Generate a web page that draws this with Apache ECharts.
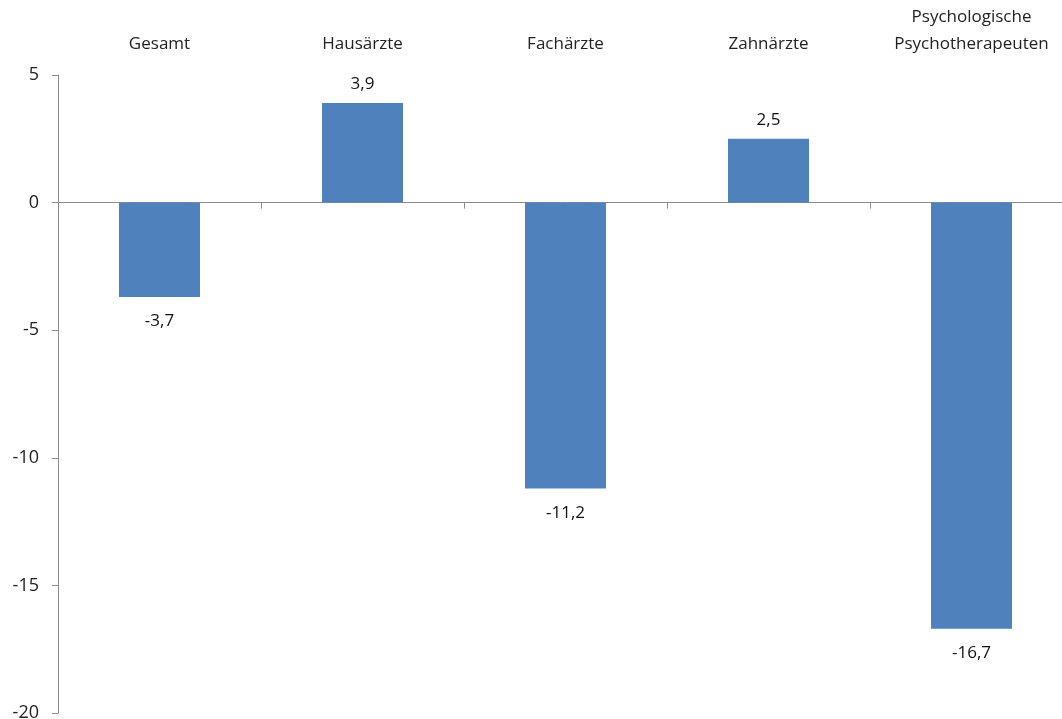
<!DOCTYPE html>
<html>
<head>
<meta charset="utf-8">
<script src="https://cdn.jsdelivr.net/npm/echarts@6/dist/echarts.min.js"></script>
<style>
  html, body { margin: 0; padding: 0; background: #fff; }
  #main { width: 1062px; height: 719px; }
</style>
</head>
<body>
<div id="main"></div>
<script>
// categories and values
var categories = ['Gesamt', 'Hausärzte', 'Fachärzte', 'Zahnärzte', 'Psychologische\nPsychotherapeuten'];
var values = [-3.7, 3.9, -11.2, 2.5, -16.7];

var myChart = echarts.init(document.getElementById('main'));

var axisGrey = '#8c8c8c';
var font = "'Open Sans', 'Liberation Sans', sans-serif";

var option = {
  animation: false,
  grid: {
    left: 58,
    top: 75,
    width: 1015,
    height: 638,
    outerBoundsMode: 'none'
  },
  xAxis: [
    {
      // labels at the top
      type: 'category',
      data: categories,
      position: 'top',
      axisLine: { show: false, onZero: false },
      axisTick: { show: false },
      axisLabel: {
        margin: 17,
        fontFamily: font,
        fontSize: 17,
        color: '#222',
        lineHeight: 27
      }
    },
    {
      // line through zero with ticks between categories
      type: 'category',
      data: categories,
      position: 'bottom',
      axisLine: { show: true, onZero: true, lineStyle: { color: axisGrey, width: 1 } },
      axisTick: { show: true, inside: false, length: 6, lineStyle: { color: axisGrey } },
      axisLabel: { show: false }
    }
  ],
  yAxis: {
    type: 'value',
    min: -20,
    max: 5,
    interval: 5,
    axisLine: { show: true, lineStyle: { color: axisGrey, width: 1 } },
    axisTick: { show: true, length: 6, lineStyle: { color: axisGrey } },
    splitLine: { show: false },
    axisLabel: {
      margin: 19,
      fontFamily: font,
      fontSize: 18,
      color: '#222'
    }
  },
  series: [
    {
      type: 'bar',
      xAxisIndex: 1,
      barWidth: 81,
      itemStyle: { color: '#4f81bd' },
      data: values.map(function (v) {
        return {
          value: v,
          label: {
            show: true,
            position: v >= 0 ? 'top' : 'bottom',
            distance: v >= 0 ? 10 : 16,
            fontFamily: font,
            fontSize: 17,
            color: '#111',
            formatter: function (p) { return String(p.value).replace('.', ','); }
          }
        };
      })
    }
  ]
};

myChart.setOption(option);
</script>
</body>
</html>
